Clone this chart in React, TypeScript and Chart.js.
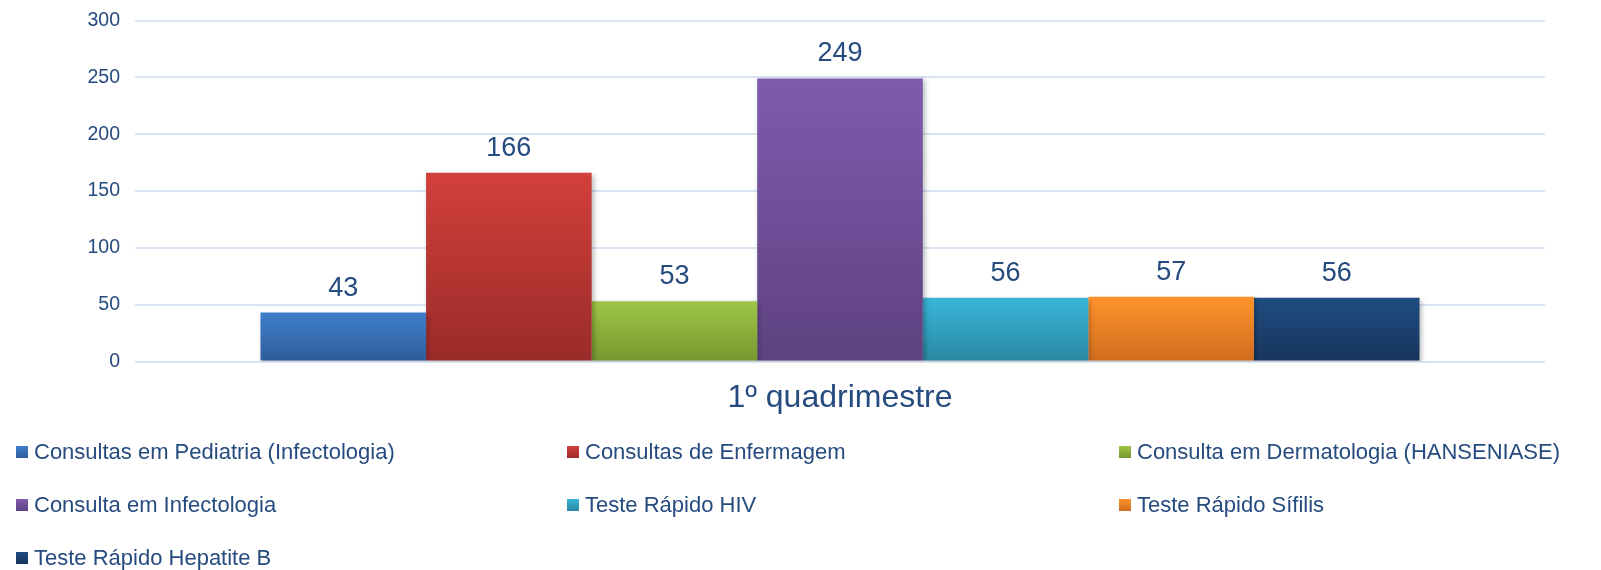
import React, { useEffect, useRef } from "react";
import { Chart, registerables } from "chart.js";

Chart.register(...registerables);

const categories = ["1º quadrimestre"];
const seriesLabels = [
  "Consultas em Pediatria (Infectologia)",
  "Consultas de Enfermagem",
  "Consulta em Dermatologia (HANSENIASE)",
  "Consulta em Infectologia",
  "Teste Rápido HIV",
  "Teste Rápido Sífilis",
  "Teste Rápido Hepatite B",
];
const pediatria = [43];
const enfermagem = [166];
const dermatologia = [53];
const infectologia = [249];
const hiv = [56];
const sifilis = [57];
const hepatiteB = [56];
const seriesValues = [pediatria, enfermagem, dermatologia, infectologia, hiv, sifilis, hepatiteB];
const topColors = ["#3F7ECC", "#D2403B", "#9DC646", "#7F5BAE", "#38B6D9", "#FF922B", "#204C80"];
const bottomColors = ["#2D5D99", "#9A2B29", "#769730", "#5E4280", "#2987A1", "#CF6C1E", "#17355E"];
const yMax = 300;
const yStep = 50;

const FONT = "'Liberation Sans', Arial, sans-serif";
const TEXT = "#264B7F";

const legendCols = [16, 567, 1119];
const legendRows = [452, 505, 558];

function gradientFor(ctx: CanvasRenderingContext2D, top: number, bottom: number, i: number) {
  const g = ctx.createLinearGradient(0, top, 0, bottom);
  g.addColorStop(0, topColors[i]);
  g.addColorStop(1, bottomColors[i]);
  return g;
}

const dataLabelPlugin = {
  id: "dataLabels",
  afterDatasetsDraw(chart: any) {
    const ctx = chart.ctx;
    ctx.save();
    ctx.font = `27px ${FONT}`;
    ctx.fillStyle = TEXT;
    ctx.textAlign = "center";
    ctx.textBaseline = "alphabetic";
    chart.data.datasets.forEach((ds: any, i: number) => {
      const meta = chart.getDatasetMeta(i);
      meta.data.forEach((el: any, j: number) => {
        ctx.fillText(String(ds.data[j]), el.x, el.y - 17);
      });
    });
    ctx.restore();
  },
};

const shadowPlugin = {
  id: "barShadow",
  beforeDatasetsDraw(chart: any) {
    const ctx = chart.ctx;
    ctx.save();
    ctx.shadowColor = "rgba(0,0,0,0.28)";
    ctx.shadowBlur = 5;
    ctx.shadowOffsetX = 2;
    ctx.shadowOffsetY = 2;
  },
  afterDatasetsDraw(chart: any) {
    chart.ctx.restore();
  },
};

const gridLegendPlugin = {
  id: "gridLegend",
  afterDraw(chart: any) {
    const ctx = chart.ctx;
    ctx.save();
    ctx.font = `22px ${FONT}`;
    ctx.textBaseline = "middle";
    ctx.textAlign = "left";
    chart.data.datasets.forEach((ds: any, i: number) => {
      const x = legendCols[i % 3];
      const y = legendRows[Math.floor(i / 3)];
      const s = 12;
      ctx.fillStyle = gradientFor(ctx, y - s / 2, y + s / 2, i);
      ctx.fillRect(x, y - s / 2, s, s);
      ctx.fillStyle = TEXT;
      ctx.fillText(ds.label, x + 18, y + 1);
    });
    ctx.restore();
  },
};

export default function App() {
  const ref = useRef<HTMLCanvasElement | null>(null);
  useEffect(() => {
    document.body.style.margin = "0";
    const canvas = ref.current!;
    const chart = new Chart(canvas, {
      type: "bar",
      data: {
        labels: categories,
        datasets: seriesLabels.map((label, i) => ({
          label,
          data: seriesValues[i],
          backgroundColor: (c: any) => {
            const ch = c.chart;
            const y = ch.scales?.y;
            if (!y || c.parsed == null) return topColors[i];
            const top = y.getPixelForValue(c.parsed.y);
            const bottom = y.getPixelForValue(0);
            if (!isFinite(top) || !isFinite(bottom) || top === bottom) return topColors[i];
            return gradientFor(ch.ctx, top, bottom, i);
          },
          borderWidth: 0,
          categoryPercentage: 0.822,
          barPercentage: 1,
        })),
      },
      options: {
        responsive: false,
        animation: false,
        devicePixelRatio: 1,
        layout: { padding: { top: 20.5, right: 56, left: 0, bottom: 0 } },
        plugins: {
          legend: { display: false },
          tooltip: { enabled: false },
        },
        scales: {
          x: {
            grid: { display: false, drawTicks: false },
            border: { display: false },
            ticks: {
              color: TEXT,
              font: { family: FONT, size: 32 },
              padding: 17,
            },
            afterFit: (s: any) => {
              s.height = 208.5;
              s.paddingLeft = 0;
              s.paddingRight = 0;
            },
          },
          y: {
            min: 0,
            max: yMax,
            ticks: {
              stepSize: yStep,
              color: TEXT,
              font: { family: FONT, size: 19.5 },
              padding: 15,
            },
            grid: { color: "#D9E4F2", lineWidth: 2, drawTicks: false },
            border: { display: false },
            afterFit: (s: any) => {
              s.width = 135;
              s.paddingTop = 0;
              s.paddingBottom = 0;
            },
          },
        },
      },
      plugins: [shadowPlugin, dataLabelPlugin, gridLegendPlugin],
    });
    return () => chart.destroy();
  }, []);
  return <canvas ref={ref} width={1601} height={570} style={{ display: "block" }} />;
}
